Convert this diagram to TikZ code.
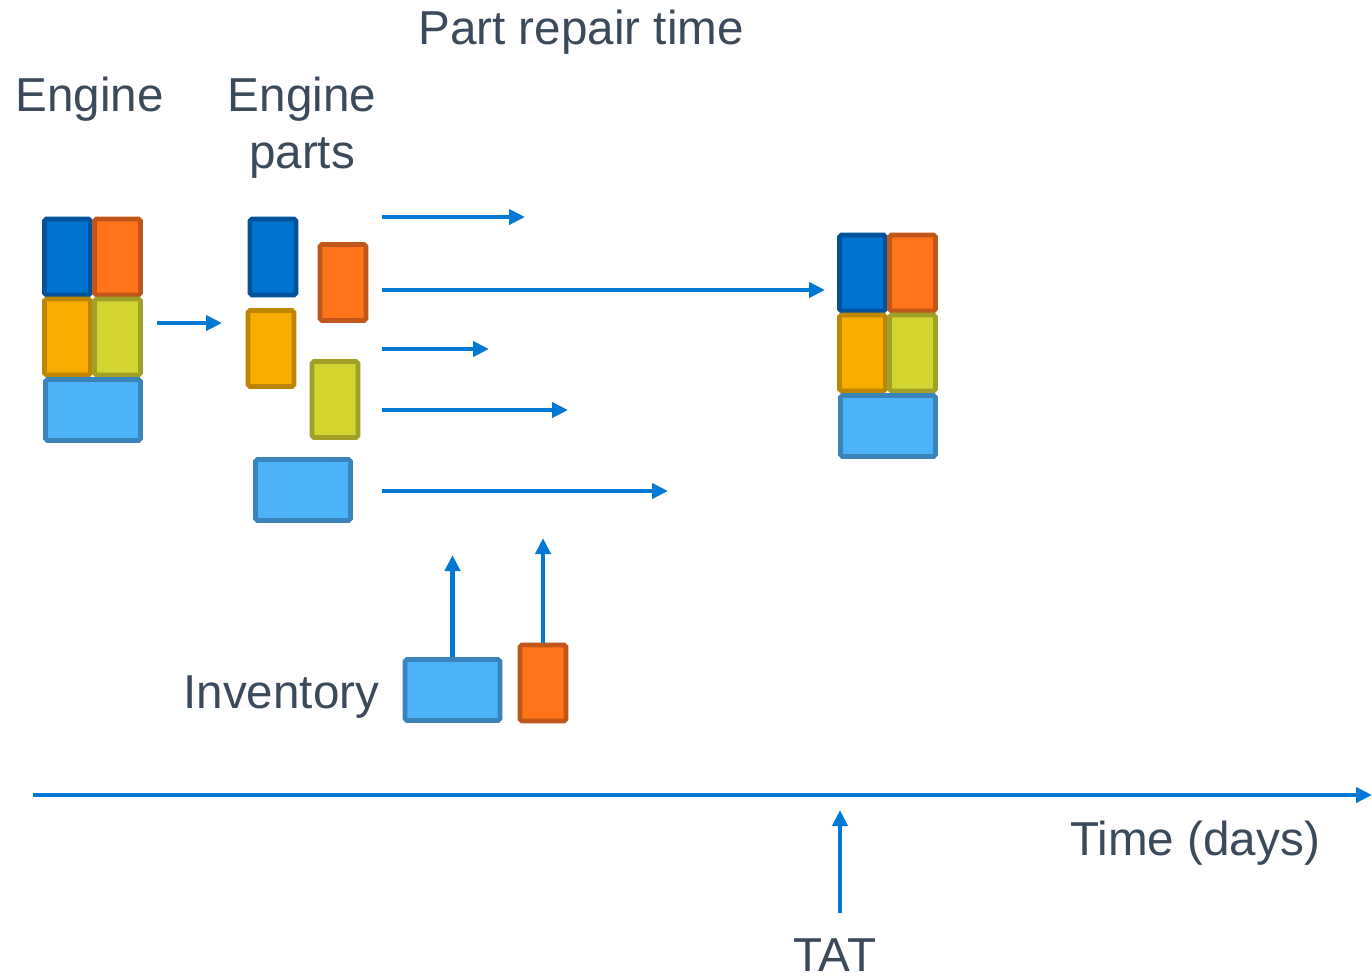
\documentclass[tikz,border=0pt]{standalone}
\usepackage{fontspec}
\setmainfont{Liberation Sans}
\usetikzlibrary{arrows.meta,positioning}
\definecolor{pblue}{HTML}{0073CF}
\definecolor{pblueD}{HTML}{00539A}
\definecolor{porange}{HTML}{FF7418}
\definecolor{porangeD}{HTML}{C0561A}
\definecolor{pamber}{HTML}{F9AC00}
\definecolor{pamberD}{HTML}{BE8500}
\definecolor{plime}{HTML}{D2D530}
\definecolor{plimeD}{HTML}{A0A028}
\definecolor{psky}{HTML}{4DB3F9}
\definecolor{pskyD}{HTML}{3984BB}
\definecolor{flow}{HTML}{0078D4}
\definecolor{ink}{HTML}{3B4A5A}

\begin{document}
\begin{tikzpicture}[x=0.02cm,y=-0.02cm,
    part/.style={draw,line width=2.6pt,rounded corners=1pt,inner sep=0pt},
    tall/.style={part,minimum width=0.92cm,minimum height=1.52cm},
    wide/.style={part,minimum width=1.9cm,minimum height=1.22cm},
    blueP/.style={tall,fill=pblue,draw=pblueD},
    orangeP/.style={tall,fill=porange,draw=porangeD},
    amberP/.style={tall,fill=pamber,draw=pamberD},
    limeP/.style={tall,fill=plime,draw=plimeD},
    skyP/.style={wide,fill=psky,draw=pskyD},
    flowarrow/.style={draw=flow,line width=2.3pt,-{Triangle[length=0.32cm,width=0.3cm]}},
    label/.style={text=ink,font=\fontsize{27.1pt}{32.4pt}\selectfont,inner sep=0pt,anchor=base west}]
  \useasboundingbox (0,0) rectangle (1372,978);

  % titles
  \node[label] (title) at (418,44) {Part repair time};
  \node[label] (engineL) at (15,111) {Engine};
  \node[label,align=center,anchor=north] (partsL) at (302,77) {Engine\\parts};
  \node[label] (invL) at (183,708) {Inventory};
  \node[label] (timeL) at (1070,855) {Time (days)};
  \node[label] (tatL) at (793,971) {TAT};

  % engine before repair
  \node[blueP] (e1) at (67.5,257) {};
  \node[orangeP] (e2) at (117.5,257) {};
  \node[amberP] (e3) at (67.5,337) {};
  \node[limeP] (e4) at (117.5,337) {};
  \node[skyP] (e5) at (93,410) {};

  % parts out of the engine
  \node[blueP] (p1) at (273,257) {};
  \node[orangeP] (p2) at (343,282.5) {};
  \node[amberP] (p3) at (271,348.5) {};
  \node[limeP] (p4) at (335,399.5) {};
  \node[skyP] (p5) at (303,490) {};

  % engine after repair
  \node[blueP] (r1) at (862.5,273) {};
  \node[orangeP] (r2) at (912.5,273) {};
  \node[amberP] (r3) at (862.5,353) {};
  \node[limeP] (r4) at (912.5,353) {};
  \node[skyP] (r5) at (888,426) {};

  % inventory
  \node[skyP] (i1) at (452.5,690) {};
  \node[orangeP] (i2) at (543,683) {};

  % repair times
  \coordinate (s1) at (382,217); \coordinate (t1) at (525,217);
  \coordinate (s2) at (382,290); \coordinate (t2) at (825,290);
  \coordinate (s3) at (382,349); \coordinate (t3) at (489,349);
  \coordinate (s4) at (382,410); \coordinate (t4) at (568,410);
  \coordinate (s5) at (382,491); \coordinate (t5) at (668,491);
  \foreach \k in {1,...,5}
    \draw[flowarrow] (s\k) -- (t\k);

  % disassembly
  \coordinate (d0) at (157,323); \coordinate (d1) at (222,323);
  \draw[flowarrow] (d0) -- (d1);

  % spares from inventory
  \coordinate (u1) at (452.5,555);
  \coordinate (u2) at (543,538);
  \draw[flowarrow] (i1.north) -- (u1);
  \draw[flowarrow] (i2.north) -- (u2);

  % time axis
  \coordinate (a0) at (33,795); \coordinate (a1) at (1372,795);
  \draw[flowarrow] (a0) -- (a1);
  \coordinate (tat0) at (840,913); \coordinate (tat1) at (840,810);
  \draw[flowarrow] (tat0) -- (tat1);
\end{tikzpicture}
\end{document}
